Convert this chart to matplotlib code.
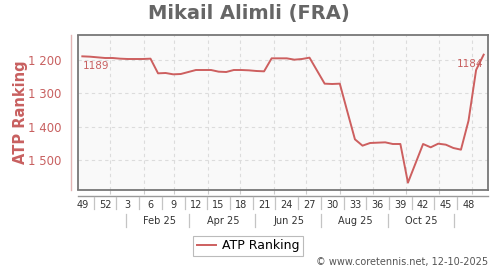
import matplotlib
matplotlib.use("Agg")
import matplotlib.pyplot as plt
import matplotlib.dates as mdates
from matplotlib.lines import Line2D
from matplotlib.patches import Rectangle
from datetime import date, timedelta, datetime

# ---- data ----
title = "Mikail Alimli (FRA)"
series_name = "ATP Ranking"
start_iso = (2024, 49)
rankings = [1189, 1190, 1192, 1194, 1194, 1196, 1197, 1197, 1197, 1196,
            1240, 1239, 1243, 1242, 1236, 1230, 1230, 1230, 1235, 1236,
            1230, 1230, 1231, 1233, 1234, 1195, 1195, 1195, 1199, 1197,
            1193, 1232, 1271, 1272, 1271, 1355, 1438, 1457, 1449, 1448,
            1447, 1452, 1452, 1568, 1510, 1452, 1462, 1451, 1454, 1464,
            1469, 1382, 1230, 1184]
y_ticks = [1200, 1300, 1400, 1500]
month_labels = ["Feb 25", "Apr 25", "Jun 25", "Aug 25", "Oct 25"]
label_months = [2, 4, 6, 8, 10]
sep_months = [1, 3, 5, 7, 9, 11]
copyright_text = "\u00a9 www.coretennis.net, 12-10-2025"

RED = "#cd5f5f"
TXT_RED = "#c86060"
GRAY = "#666666"

d0 = date.fromisocalendar(start_iso[0], start_iso[1], 5)
dates = [d0 + timedelta(weeks=i) for i in range(len(rankings))]
xs = mdates.date2num(dates)

fig = plt.figure(figsize=(5, 2.7), dpi=100)
ax = fig.add_axes([78/500, 1-190/270, (488-78)/500, (190-35)/270])
ax.set_facecolor("#f9f9f9")

ax.plot(xs, rankings, color=RED, lw=1.4, label=series_name, zorder=3)

ax.set_xlim(mdates.date2num(datetime(2024, 12, 2)), mdates.date2num(datetime(2025, 12, 16)))
ax.set_ylim(1590, 1125)

# grid at month starts
month_starts = [datetime(2025, m, 1) for m in range(1, 13)]
ax.set_xticks(mdates.date2num(month_starts))
ax.set_xticklabels([])
ax.tick_params(axis="x", length=3, color="#cccccc", width=0.8)
ax.set_yticks(y_ticks)
ax.set_yticklabels([f"{v:,}".replace(",", " ") for v in y_ticks])
ax.tick_params(axis="y", length=0, pad=7, labelsize=8.5, labelcolor=TXT_RED)
ax.grid(True, ls=(0, (3, 3)), color="#dcdcdc", lw=0.8)

for s in ["top", "right", "bottom"]:
    ax.spines[s].set_color("#777777")
    ax.spines[s].set_linewidth(1.3)
ax.spines["left"].set_position(("outward", 5))
ax.spines["left"].set_color("#e2b5b5")
ax.spines["left"].set_linewidth(1.0)
ax.add_patch(Rectangle((0, 0), 0, 1, transform=ax.transAxes, fill=False,
                       ec="#777777", lw=1.3, clip_on=False, zorder=4))

ax.set_ylabel(series_name, color=TXT_RED, fontsize=10.5, fontweight="bold",
              labelpad=0)

# annotations of first and last values
ax.annotate(f"{rankings[0]}", (xs[0], rankings[0]), xytext=(0, -7),
            textcoords="offset points", ha="left", va="center",
            fontsize=7.5, color=TXT_RED)
ax.annotate(f"{rankings[-1]}", (xs[-1], rankings[-1]), xytext=(0, -6.5),
            textcoords="offset points", ha="right", va="center",
            fontsize=7.5, color=TXT_RED)

# secondary axis rows
trans = ax.get_xaxis_transform()
h = ax.get_position().height * 270
def yfrac(py):
    return (190 - py) / h

ax.add_line(Line2D([0, 1], [yfrac(195.5)] * 2, transform=ax.transAxes,
                   color="#999999", lw=1.0, clip_on=False))
label_idx = list(range(0, len(dates), 3))
for k, i in enumerate(label_idx):
    wk = dates[i].isocalendar()[1]
    ax.text(xs[i], yfrac(205), str(wk), transform=trans, ha="center",
            va="center", fontsize=7, color="#333333")
    if k + 1 < len(label_idx):
        xm = (xs[i] + xs[label_idx[k + 1]]) / 2
        ax.add_line(Line2D([xm, xm], [yfrac(197), yfrac(209)], transform=trans,
                           color="#c4c4c4", lw=0.9, clip_on=False))
for lab, m in zip(month_labels, label_months):
    xm = mdates.date2num(datetime(2025, m, 15))
    ax.text(xm, yfrac(221), lab, transform=trans, ha="center", va="center",
            fontsize=7, color="#333333")
for m in sep_months:
    xm = mdates.date2num(datetime(2025, m, 15))
    ax.add_line(Line2D([xm, xm], [yfrac(214), yfrac(227)], transform=trans,
                       color="#c4c4c4", lw=0.9, clip_on=False))

fig.text(249/500, 1-14/270, title, ha="center", va="center", fontsize=14,
         fontweight="bold", color=GRAY)

leg = fig.legend(loc="center", bbox_to_anchor=(248/500, 1-246/270),
                 fontsize=9, frameon=True, fancybox=False, handlelength=1.5,
                 borderpad=0.3, handletextpad=0.5)
leg.get_frame().set_edgecolor("#aaaaaa")
leg.get_frame().set_linewidth(0.8)

fig.text(488/500, 1-262/270, copyright_text, ha="right", va="center",
         fontsize=7, color="#555555")

fig.savefig("out.png", dpi=100)
